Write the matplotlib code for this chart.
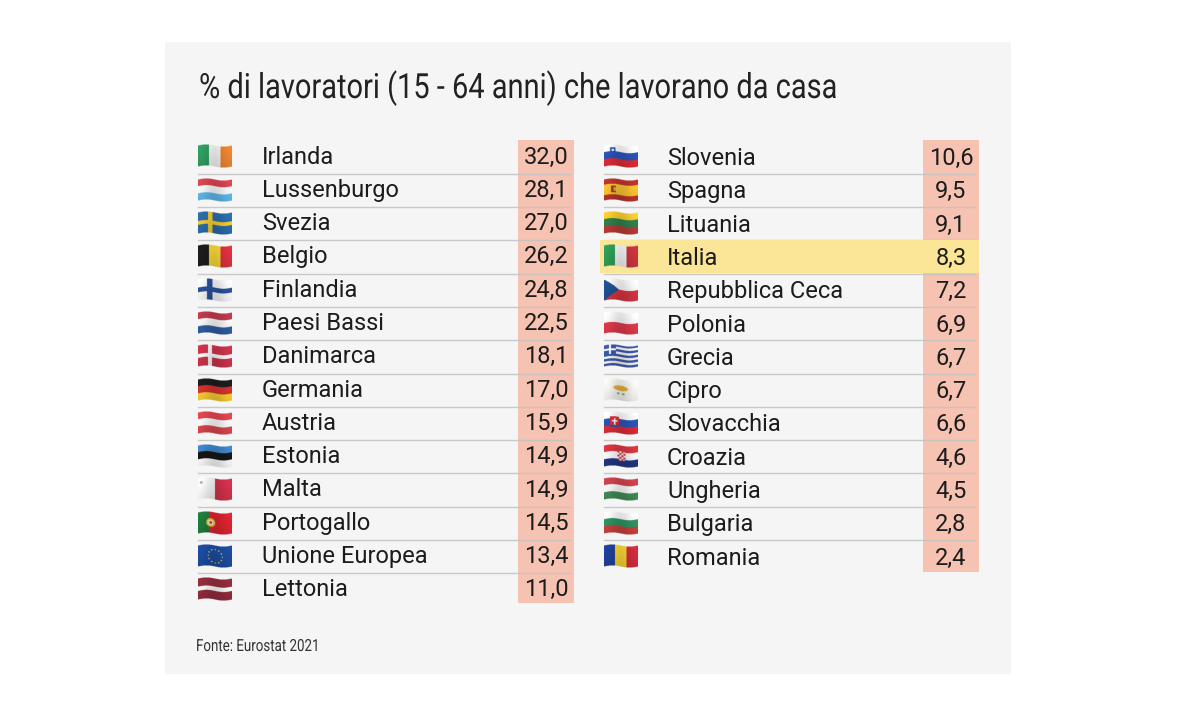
import matplotlib
matplotlib.use('Agg')
import matplotlib.pyplot as plt
from matplotlib.patches import Rectangle
from matplotlib.patheffects import AbstractPathEffect
from matplotlib.transforms import Affine2D
import numpy as np

title = "% di lavoratori (15 - 64 anni) che lavorano da casa"
source = "Fonte: Eurostat 2021"

left_names = ["Irlanda", "Lussenburgo", "Svezia", "Belgio", "Finlandia", "Paesi Bassi", "Danimarca",
              "Germania", "Austria", "Estonia", "Malta", "Portogallo", "Unione Europea", "Lettonia"]
left_values = [32.0, 28.1, 27.0, 26.2, 24.8, 22.5, 18.1, 17.0, 15.9, 14.9, 14.9, 14.5, 13.4, 11.0]

right_names = ["Slovenia", "Spagna", "Lituania", "Italia", "Repubblica Ceca", "Polonia", "Grecia",
               "Cipro", "Slovacchia", "Croazia", "Ungheria", "Bulgaria", "Romania"]
right_values = [10.6, 9.5, 9.1, 8.3, 7.2, 6.9, 6.7, 6.7, 6.6, 4.6, 4.5, 2.8, 2.4]

highlight = "Italia"

# stripes for each flag: direction, then colours
RED = "#d2343f"
WHITE = "#f4f4f4"
flags = {
    "Irlanda": ("v", ["#2f9a5f", "#f4f4f4", "#e8812f"]),
    "Lussenburgo": ("h", ["#d2434f", "#f4f4f4", "#5cb6e6"]),
    "Svezia": ("h", ["#2a6aa5"]),
    "Belgio": ("v", ["#1c1c1c", "#f7d63a", "#d8303c"]),
    "Finlandia": ("h", ["#f2f2f2"]),
    "Paesi Bassi": ("h", ["#b8384a", "#f4f4f4", "#2f5c9e"]),
    "Danimarca": ("h", ["#c8324a"]),
    "Germania": ("h", ["#1c1c1c", "#d0312d", "#f5c92f"]),
    "Austria": ("h", ["#d8444c", "#f4f4f4", "#d8444c"]),
    "Estonia": ("h", ["#3f80c4", "#161616", "#f4f4f4"]),
    "Malta": ("v", ["#f4f4f4", "#cf2f4a"]),
    "Portogallo": ("v", ["#1f7a3a", "#d8232f", "#d8232f"]),
    "Unione Europea": ("h", ["#1c4a9c"]),
    "Lettonia": ("h", ["#8f2b3c", "#8f2b3c", "#f4f4f4", "#8f2b3c", "#8f2b3c"]),
    "Slovenia": ("h", ["#f4f4f4", "#2a52b5", "#dc2b36"]),
    "Spagna": ("h", ["#b8322a", "#f5c02f", "#f5c02f", "#b8322a"]),
    "Lituania": ("h", ["#f2c62f", "#2f7d4a", "#b83a36"]),
    "Italia": ("v", ["#2f9a55", "#f4f4f4", "#c8323c"]),
    "Repubblica Ceca": ("h", ["#f2f2f2", "#d2343f"]),
    "Polonia": ("h", ["#f4f4f4", "#dc3a4a"]),
    "Grecia": ("h", ["#3a55a5", "#f2f2f2"] * 4 + ["#3a55a5"]),
    "Cipro": ("h", ["#f0f0ec"]),
    "Slovacchia": ("h", ["#f4f4f4", "#2a52b5", "#dc2b36"]),
    "Croazia": ("h", ["#d2343f", "#f4f4f4", "#20357f"]),
    "Ungheria": ("h", ["#c8404a", "#f4f4f4", "#3f8a56"]),
    "Bulgaria": ("h", ["#f4f4f4", "#2f9060", "#c8403a"]),
    "Romania": ("v", ["#1f3f96", "#f7d432", "#cc2b3a"]),
}


def hex_rgb(c):
    return np.array(matplotlib.colors.to_rgb(c))


def flag_pixels(name):
    w, h = 68, 44
    img = np.zeros((h, w, 3))
    kind, cols = flags[name]
    n = len(cols)
    for i, c in enumerate(cols):
        if kind == "h":
            img[int(i * h / n):int((i + 1) * h / n), :] = hex_rgb(c)
        else:
            img[:, int(i * w / n):int((i + 1) * w / n)] = hex_rgb(c)
    yy, xx = np.mgrid[0:h, 0:w]

    def blob(cx, cy, r, c):
        img[(xx - cx) ** 2 + (yy - cy) ** 2 <= r ** 2] = hex_rgb(c)

    # crosses
    if name == "Svezia":
        img[18:26, :] = hex_rgb("#f2c82f")
        img[:, 20:29] = hex_rgb("#f2c82f")
    if name == "Finlandia":
        img[17:27, :] = hex_rgb("#2a4f95")
        img[:, 18:29] = hex_rgb("#2a4f95")
    if name == "Danimarca":
        img[18:26, :] = hex_rgb(WHITE)
        img[:, 20:28] = hex_rgb(WHITE)
    # hoist triangle
    if name == "Repubblica Ceca":
        mask = xx < 30 * (1 - np.abs(yy - 22) / 22)
        img[mask] = hex_rgb("#1f4f8f")
    if name == "Grecia":
        img[:20, :24] = hex_rgb("#3a55a5")
        img[8:12, :24] = hex_rgb(WHITE)
        img[:20, 10:14] = hex_rgb(WHITE)
    if name == "Malta":
        blob(6, 9, 3, "#a8a8a8")
    if name == "Portogallo":
        blob(25, 22, 9, "#e8c53a")
        blob(25, 22, 5, "#f4f4f4")
        blob(25, 22, 3, "#c8323c")
    if name == "Spagna":
        img[15:29, 14:24] = hex_rgb("#9c3a22")
        img[18:26, 19:24] = hex_rgb("#d8a02f")
    if name == "Unione Europea":
        for a in np.arange(12) * np.pi / 6:
            blob(34 + 14 * np.cos(a), 22 + 14 * np.sin(a), 1.4, "#f2d84a")
    if name == "Cipro":
        mask = ((xx - 33) / 15.0) ** 2 + ((yy - 18) / 5.5) ** 2 <= 1
        img[mask] = hex_rgb("#e3a83c")
        img[28:32, 26:31] = hex_rgb("#8aa878")
        img[28:32, 36:41] = hex_rgb("#8aa878")
    if name == "Slovenia":
        img[6:17, 12:23] = hex_rgb("#2a52b5")
        blob(17, 11, 2.5, WHITE)
    if name == "Slovacchia":
        img[10:32, 12:30] = hex_rgb("#dc2b36")
        img[14:28, 20:23] = hex_rgb(WHITE)
        img[18:21, 16:27] = hex_rgb(WHITE)
        img[28:32, 12:30] = hex_rgb("#2a52b5")
    if name == "Croazia":
        img[12:32, 27:41] = hex_rgb(WHITE)
        for r in range(12, 32, 4):
            for c in range(27, 41, 4):
                if ((r - 12) // 4 + (c - 27) // 4) % 2 == 0:
                    img[r:r + 4, c:c + 4] = hex_rgb(RED)
    return img


def draw_flag(ax, name, x0, yc):
    img = flag_pixels(name)
    sh, sw = img.shape[:2]
    # 4 samples per pixel, 26 tall so the wave has room
    W, H = 34 * 4, 26 * 4
    u = (np.arange(W) + 0.5) / W
    ypx = (np.arange(H) + 0.5) / 4 - 13
    wave = 1.1 * np.sin(u * 2 * np.pi)
    v = (ypx[:, None] + wave[None, :]) / 21.0 + 0.5
    inside = (v >= 0) & (v < 1)
    row = np.clip((v * sh).astype(int), 0, sh - 1)
    col = np.clip((u * sw).astype(int), 0, sw - 1)
    rgb = img[row, col[None, :].repeat(H, axis=0)]
    shade = 1 + 0.07 * np.cos(u * 2 * np.pi)[None, :, None]
    rows = 1.0 - 0.10 * np.clip(v, 0, 1)[:, :, None]
    rgb = np.clip(rgb * shade * rows, 0, 1)
    rgba = np.dstack([rgb, inside.astype(float)])
    ax.imshow(rgba, extent=(x0, x0 + 34, yc + 13, yc - 13), interpolation='hanning',
              interpolation_stage='rgba', aspect='auto', zorder=4)


class Squeeze(AbstractPathEffect):
    # narrow the glyphs sideways, there is no condensed font installed
    def __init__(self, x_px, factor):
        super().__init__()
        self.x_px = x_px
        self.factor = factor

    def draw_path(self, renderer, gc, tpath, affine, rgbFace=None):
        squeeze = Affine2D().translate(-self.x_px, 0).scale(self.factor, 1).translate(self.x_px, 0)
        renderer.draw_path(gc, tpath, affine + squeeze, rgbFace)


fig = plt.figure(figsize=(11.79, 7.2), dpi=100, facecolor='white')
ax = fig.add_axes([0, 0, 1, 1])
ax.axis('off')

ax.add_patch(Rectangle((165, 42), 846, 632, fc='#f5f5f5', ec='none', zorder=0))

body = ['Roboto', 'DejaVu Sans']
ink = '#1c1c1c'

ax.text(199, 98, title, fontsize=25, family=body, color='#222222', va='baseline', ha='left',
        path_effects=[Squeeze(199, 0.835)])
ax.text(196, 651, source, fontsize=12, family=body, color='#333333', va='baseline', ha='left',
        path_effects=[Squeeze(196, 0.8)])


def draw_column(names, values, flag_x, text_x, box_x, box_w, box_bottom, baseline0):
    step = 33.3
    top = 140
    n = len(names)
    ax.add_patch(Rectangle((box_x, top), box_w, box_bottom - top, fc='#f6c3b2', ec='none', zorder=1))
    for i in range(n):
        base = baseline0 + i * step
        if names[i] == highlight:
            ax.add_patch(Rectangle((flag_x - 4, top + i * step), box_x + box_w - flag_x + 4, step,
                                   fc='#fbe596', ec='none', zorder=2))
        if i < n - 1:
            ax.plot([flag_x, box_x + box_w - 4], [173.7 + i * step] * 2, color='#c2c2c2', lw=1, alpha=0.85,
                    zorder=1.5)
        draw_flag(ax, names[i], flag_x, 156.5 + i * step)
        ax.text(text_x, base, names[i], fontsize=17, family=body, color=ink, va='baseline', ha='left', zorder=5)
        ax.text(box_x + box_w / 2, base, f"{values[i]:.1f}".replace('.', ','), fontsize=17, family=body,
                color=ink, va='baseline', ha='center', zorder=5)


draw_column(left_names, left_values, 198, 262, 518, 56, 603, 163.5)
draw_column(right_names, right_values, 604, 667, 923, 56, 572, 165)

ax.set_xlim(0, 1179)
ax.set_ylim(720, 0)

fig.savefig('out.png', dpi=100)
